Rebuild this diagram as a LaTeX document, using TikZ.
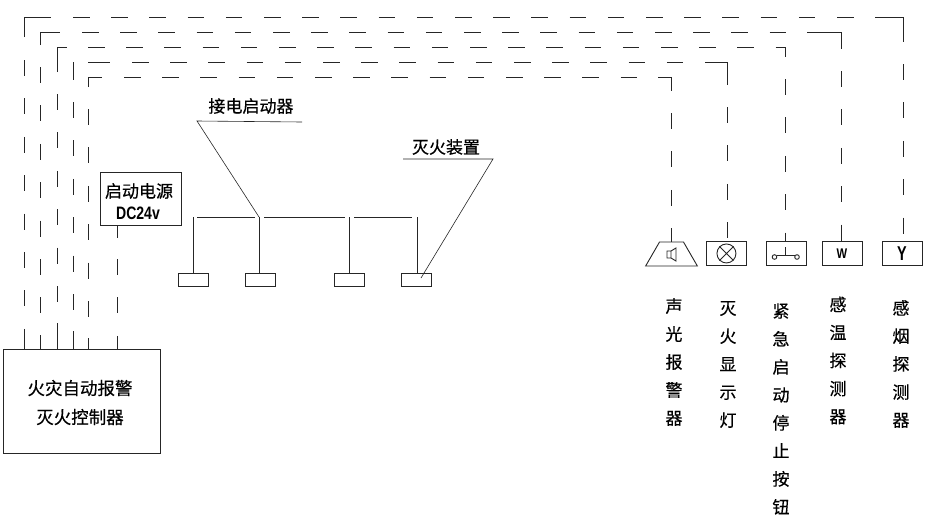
\documentclass[tikz,border=0pt]{standalone}
\usepackage{fontspec}
\setmainfont[FakeBold=0.4]{Noto Sans CJK SC}
\setsansfont{Liberation Sans}
\usetikzlibrary{shapes.geometric}
\tikzset{
  box/.style={draw, black!85, line width=0.9pt, inner sep=0pt, anchor=north west},
  wire/.style={black!85, line width=0.9pt},
  vdash/.style={wire, dash pattern=on 16pt off 22.4pt},
  hdash/.style={wire, dash pattern=on 16.5pt off 21.7pt},
  lab/.style={inner sep=0pt, align=center, font=\fontsize{17pt}{28pt}\selectfont},
}
\begin{document}
\begin{tikzpicture}[x=1pt,y=-1pt]
    \useasboundingbox (0,0) rectangle (930,528);

    % Controller
    \node[box, minimum width=157pt, minimum height=104pt] (ctrl) at (3,349) {};
    \node[lab, font=\fontsize{17.5pt}{29pt}\selectfont] (ctrltxt) at (80,402.5) {火灾自动报警\\灭火控制器};

    % Power
    \node[box, minimum width=81pt, minimum height=53pt] (power) at (100,172) {};
    \node[lab] (powertxt) at (139,191) {启动电源};
    \node[inner sep=0pt, xscale=.78, transform shape, font=\sffamily\bfseries\fontsize{18pt}{18pt}\selectfont] (dctxt) at (138,213) {DC24v};

    % Release devices
    \foreach \n/\x in {a/178,b/245,c/334,d/401}
        \node[box, minimum width=30pt, minimum height=13pt] (\n) at (\x,273) {};
    \coordinate (dtip) at (421,278);

    % Symbols
    \node[draw, black!85, line width=0.9pt, trapezium, trapezium left angle=60, trapezium right angle=60, inner sep=1pt, minimum width=45pt, minimum height=24pt] (s1) at (671.5,254) {};
    \node[box, minimum width=40pt, minimum height=24pt] (s2) at (706,241) {};
    \node[box, minimum width=40pt, minimum height=24pt] (s3) at (765.5,241) {};
    \node[box, minimum width=40pt, minimum height=24pt] (s4) at (821.5,241) {};
    \node[box, minimum width=40pt, minimum height=24pt] (s5) at (881.5,241) {};

    % Speaker, lamp, button
    \draw[wire] (667,251) -- (671,251) -- (676,248) -- (676,261) -- (671,258) -- (667,258) -- cycle (671,251) -- (671,258);
    \node[draw, black!85, line width=0.9pt, circle, minimum size=19pt, inner sep=0pt] (lamp) at (s2.center) {};
    \draw[wire] (lamp.north west) -- (lamp.south east) (lamp.north east) -- (lamp.south west);
    \draw[wire] (777,255) -- (795,255) (785,255) -- (785,247);
    \draw[wire] (774.5,257) circle (2.3pt) (797,257) circle (2.3pt);
    \node[inner sep=0pt, xscale=.8, transform shape, font=\sffamily\bfseries\fontsize{14pt}{14pt}\selectfont] (wtxt) at (s4.center) {W};
    \node[inner sep=0pt, xscale=.72, transform shape, font=\sffamily\bfseries\fontsize{20pt}{20pt}\selectfont] (ytxt) at (s5.center) {Y};

    % Dashed wires, outer to inner
    \foreach \lx/\ty/\rx/\sym/\ve/\he/\vs/\hs/\rh/\re/\rs/\bs in {
        24/17/903/s5/37/51/60/73/875/42/64/329,
        40/32/841/s4/45/60/67/82/807/49/71/335,
        57/47/785/s3/72/67/94/88/776/57/79/323,
        88/77/671/s1/87/102/109/124/658/91/113/338} {
        \draw[wire] (\lx,\ve) -- (\lx,\ty) -- (\he,\ty);
        \draw[vdash] (\lx,\vs) -- (\lx,\bs);
        \draw[wire] (\lx,\bs) -- (ctrl.north -| \lx,0);
        \draw[hdash] (\hs,\ty) -- (\rh,\ty);
        \draw[wire] (\rh,\ty) -- (\rx,\ty) -- (\rx,\re);
        \draw[vdash] (\rx,\rs) -- (\sym.north -| \rx,0);
    }
    % This one has no left corner
    \draw[wire] (73,62) -- (73,80) (88,62) -- (110,62);
    \draw[vdash] (73,102) -- (73,331);
    \draw[wire] (73,331) -- (ctrl.north -| 73,0);
    \draw[hdash] (132,62) -- (705,62);
    \draw[wire] (705,62) -- (727,62) -- (727,85);
    \draw[vdash] (727,107) -- (s2.north -| 727,0);

    % Power feed
    \draw[wire] (power.south -| 117,0) -- (117,238);
    \draw[vdash] (117,259) -- (117,336);
    \draw[wire] (117,336) -- (ctrl.north -| 117,0);

    % Bus
    \foreach \n/\x in {a/193,b/259,c/349,d/417}
        \draw[wire] (\x,217) -- (\n.north -| \x,0);
    \draw[wire] (197,217) -- (255,217) (264,217) -- (345,217) (354,217) -- (412,217);

    % Labels with leaders
    \node[lab] (starter) at (251,106) {接电启动器};
    \draw[black!85, line width=0.6pt] (302,122) -- (197,121) -- (259,217);
    \node[lab] (release) at (446,147) {灭火装置};
    \draw[black!85, line width=0.6pt] (403,159) -- (493,159) -- (dtip);

    % Vertical labels
    \node[lab] (l1) at (674,362) {声\\光\\报\\警\\器};
    \node[lab] (l2) at (728,364.5) {灭\\火\\显\\示\\灯};
    \node[lab] (l3) at (781,409) {紧\\急\\启\\动\\停\\止\\按\\钮};
    \node[lab] (l4) at (838,360.5) {感\\温\\探\\测\\器};
    \node[lab] (l5) at (901,364) {感\\烟\\探\\测\\器};
\end{tikzpicture}
\end{document}
